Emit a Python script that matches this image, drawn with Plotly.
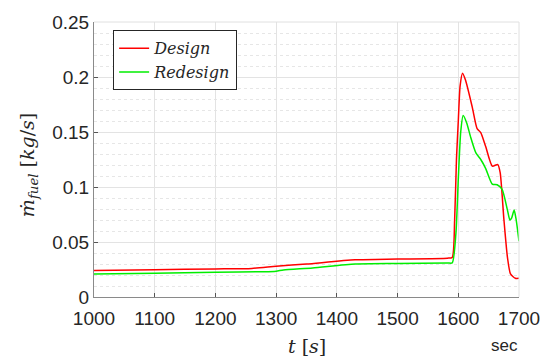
import plotly.graph_objects as go

t_design = [1000, 1100, 1200, 1260, 1300, 1350, 1430, 1500, 1582, 1590, 1594, 1597, 1600, 1603,
            1607, 1612, 1623, 1631, 1637, 1645, 1656, 1665, 1669, 1675, 1681, 1686, 1694, 1700]
m_design = [0.024, 0.0248, 0.0255, 0.026, 0.028, 0.030, 0.0338, 0.0345, 0.0353, 0.036, 0.07, 0.125,
            0.160, 0.192, 0.2035, 0.197, 0.1726, 0.153, 0.1495, 0.137, 0.119, 0.1204, 0.113,
            0.0714, 0.036, 0.021, 0.017, 0.017]

t_redesign = [1000, 1100, 1200, 1280, 1300, 1312, 1360, 1430, 1500, 1582, 1590, 1596, 1600, 1604,
              1608, 1614, 1620, 1629, 1637, 1645, 1656, 1664, 1672, 1681, 1685, 1688, 1692,
              1695, 1700]
m_redesign = [0.021, 0.0215, 0.0225, 0.023, 0.0235, 0.0246, 0.0264, 0.030, 0.0305, 0.031, 0.031,
              0.057, 0.107, 0.150, 0.165, 0.158, 0.146, 0.131, 0.125, 0.117, 0.1026, 0.102,
              0.098, 0.079, 0.070, 0.072, 0.079, 0.0714, 0.0507]

x_ticks = [1000, 1100, 1200, 1300, 1400, 1500, 1600, 1700]
y_ticks = [0, 0.05, 0.1, 0.15, 0.2, 0.25]
y_labels = ["0", "0.05", "0.1", "0.15", "0.2", "0.25"]

fig = go.Figure()
fig.add_trace(go.Scatter(x=t_design, y=m_design, mode="lines", name="<i>Design</i>",
                         line=dict(color="#ff0000", width=1.5, shape="spline", smoothing=0.6)))
fig.add_trace(go.Scatter(x=t_redesign, y=m_redesign, mode="lines", name="<i>Redesign</i>",
                         line=dict(color="#00ee00", width=1.5, shape="spline", smoothing=0.6)))

serif = "DejaVu Serif, Liberation Serif, serif"
tickfont = dict(family="Liberation Sans, Arial", size=19, color="#262626")
fig.update_layout(
    width=552, height=362,
    margin=dict(l=94, r=32, t=16, b=65),
    paper_bgcolor="white", plot_bgcolor="white",
    showlegend=True,
    legend=dict(x=0.045, y=0.97, xanchor="left", yanchor="top",
                bgcolor="white", bordercolor="#262626", borderwidth=1,
                font=dict(family=serif, size=16, color="#262626"),
                tracegroupgap=0, itemwidth=30),
    xaxis=dict(range=[1000, 1700], tickvals=x_ticks, ticktext=[str(v) for v in x_ticks],
               showgrid=True, gridcolor="#e3e3e3", gridwidth=1,
               showline=True, linecolor="#8a8a8a", linewidth=1, mirror=False,
               ticks="inside", ticklen=4, tickcolor="#555555",
               tickfont=tickfont, zeroline=False, ticklabelstandoff=4),
    yaxis=dict(range=[0, 0.25], tickvals=y_ticks, ticktext=y_labels,
               showgrid=True, gridcolor="#e3e3e3", gridwidth=1,
               showline=True, linecolor="#8a8a8a", linewidth=1, mirror=False,
               ticks="inside", ticklen=4, tickcolor="#555555",
               tickfont=tickfont, zeroline=False,
               minor=dict(dtick=0.01, tick0=0, showgrid=True, griddash="dot",
                          gridcolor="#e6e6e6", gridwidth=1)),
)

# light box on top/right
fig.add_shape(type="line", xref="paper", yref="paper", x0=0, x1=1, y0=1, y1=1,
              line=dict(color="#e0e0e0", width=1))
fig.add_shape(type="line", xref="paper", yref="paper", x0=1, x1=1, y0=0, y1=1,
              line=dict(color="#e0e0e0", width=1))

fig.add_annotation(text="<i>t</i> [<i>s</i>]", xref="paper", yref="paper", x=0.5, y=-0.178,
                   showarrow=False, xanchor="center", yanchor="middle",
                   font=dict(family=serif, size=19, color="#262626"))
fig.add_annotation(text="<i>ṁ</i><sub><i>fuel</i></sub> [<i>kg</i>/<i>s</i>]",
                   xref="paper", yref="paper", x=-0.155, y=0.48, textangle=-90,
                   showarrow=False, xanchor="center", yanchor="middle",
                   font=dict(family=serif, size=19, color="#262626"))
fig.add_annotation(text="sec", xref="paper", yref="paper", x=0.965, y=-0.178,
                   showarrow=False, xanchor="center", yanchor="middle",
                   font=dict(family="Liberation Sans, Arial", size=17, color="#262626"))

fig.write_html("out.html")
